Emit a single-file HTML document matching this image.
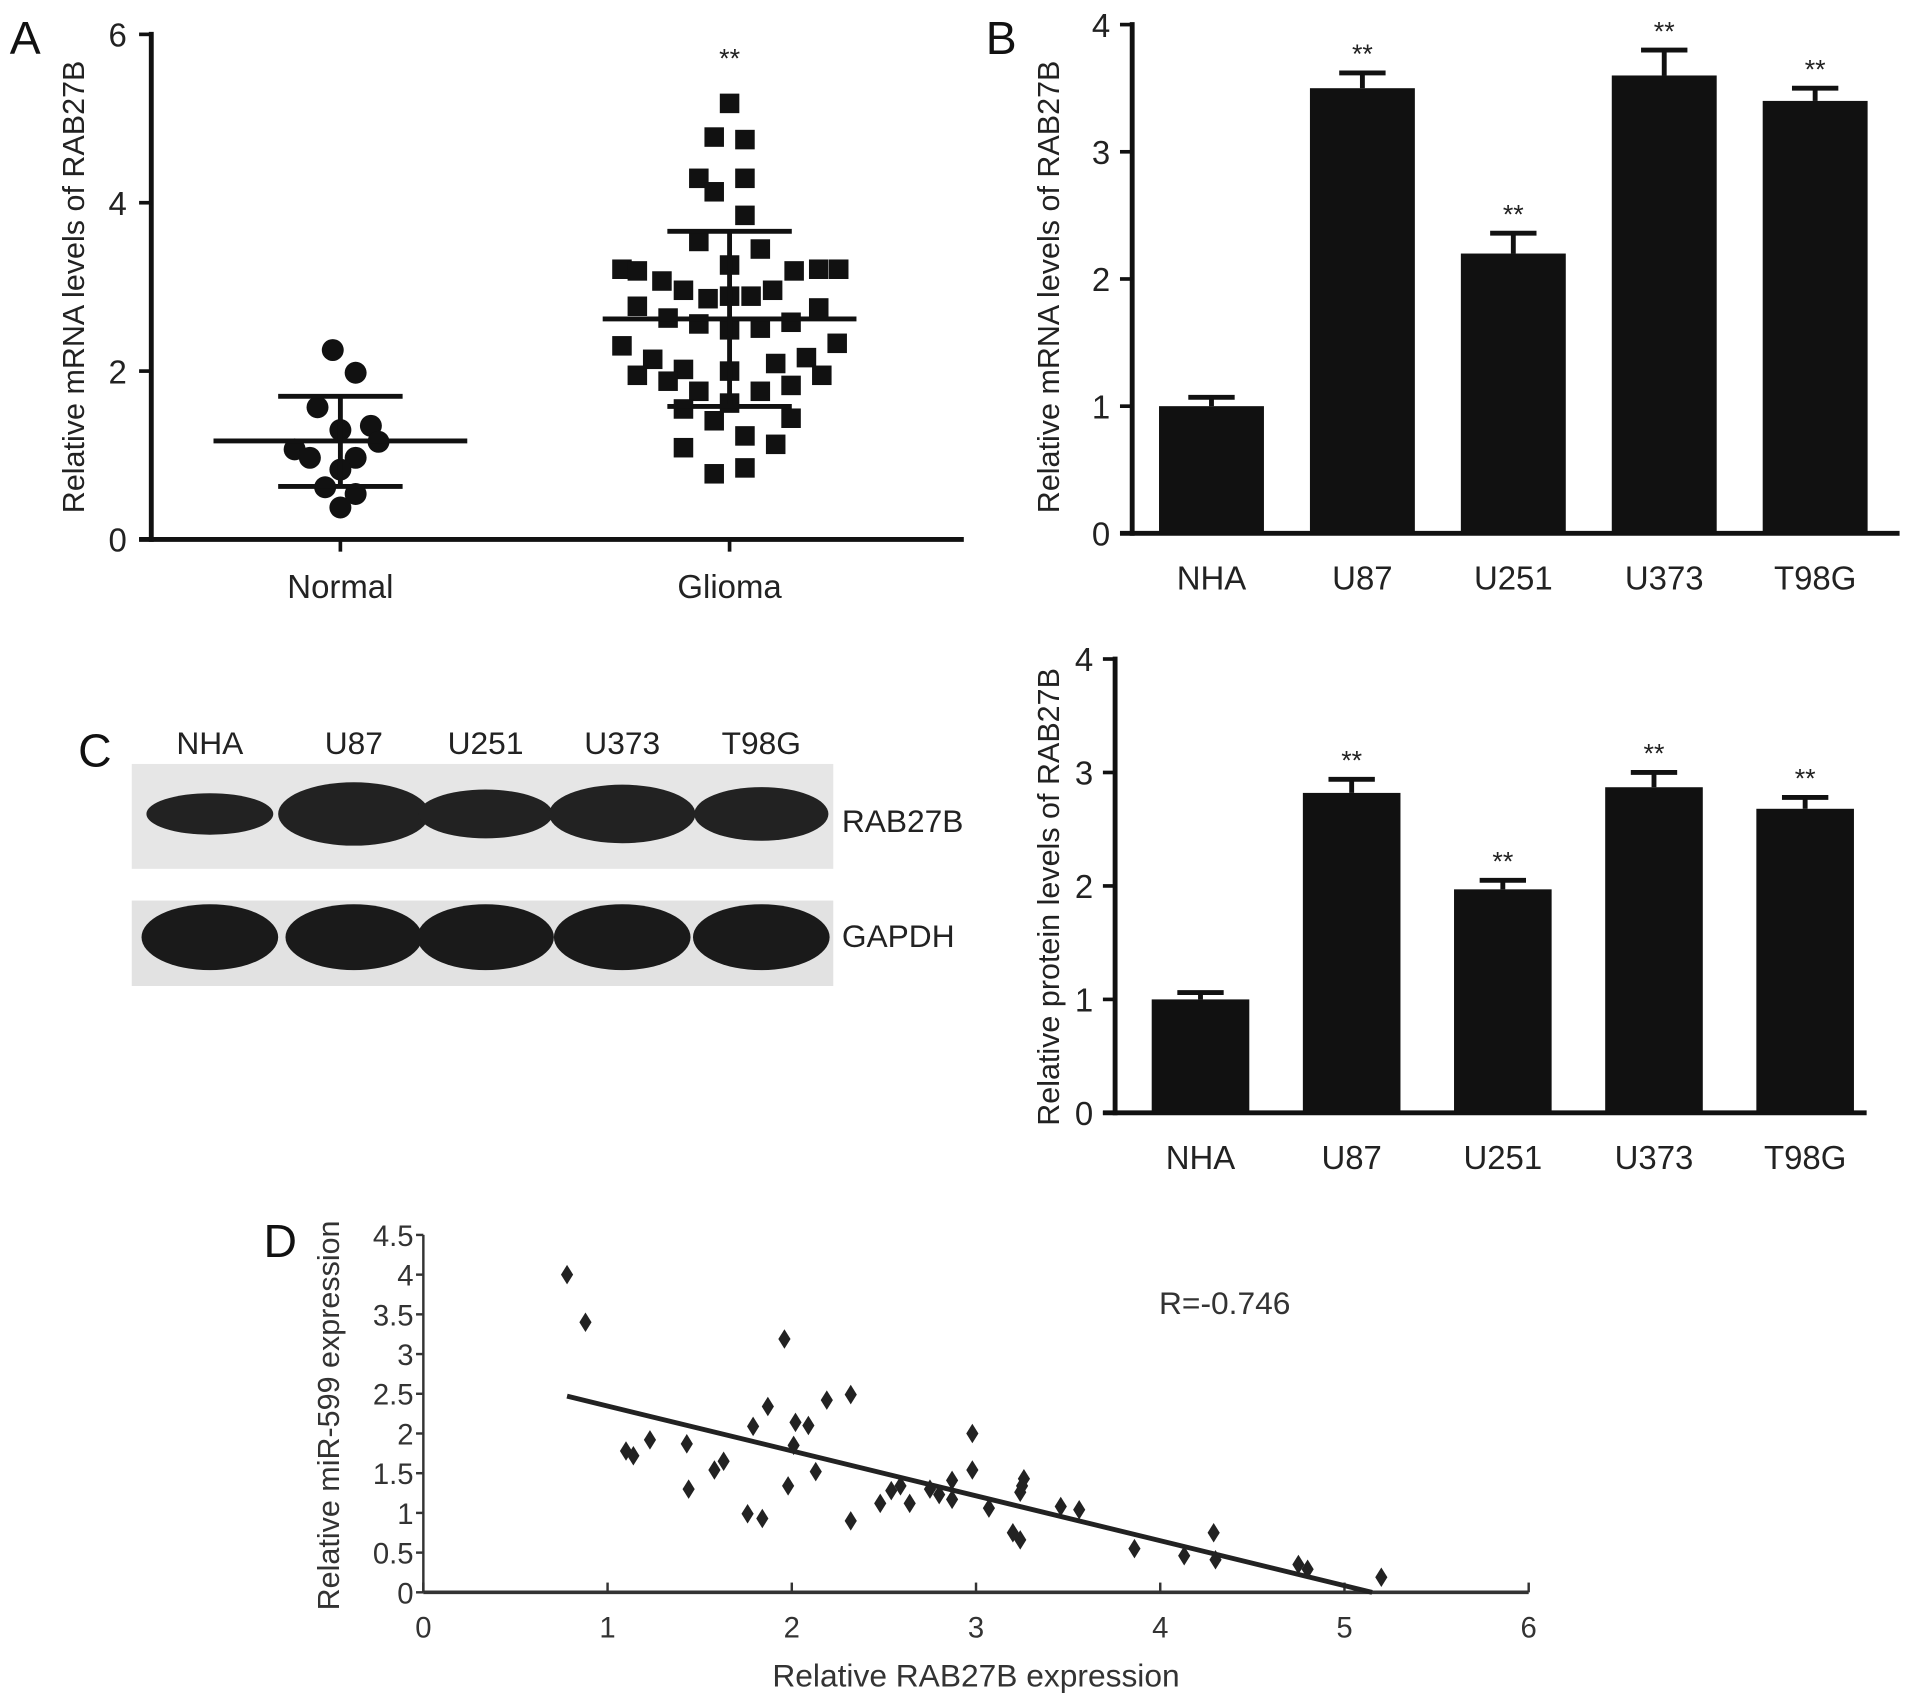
<!DOCTYPE html>
<html><head><meta charset="utf-8"><style>
html,body{margin:0;padding:0;background:#fff;}
svg{display:block;font-family:"Liberation Sans",Arial,sans-serif;}
</style></head><body>
<svg id="fig" width="1913" height="1706" viewBox="0 0 1568 1398" xmlns="http://www.w3.org/2000/svg">
<rect width="1568" height="1398" fill="#fff"/>
<g id="pA"></g>
<g id="pB1"></g>
<g id="pB2"></g>
<g id="pC"></g>
<g id="pD"></g>
</svg>
<script>
// ---------- Data ----------
const normalValues=[2.25,1.98,1.57,1.30,1.35,1.07,1.16,0.97,0.97,0.83,0.62,0.54,0.38];
const normalJitter=[-0.5,1,-1.5,0,2,-3,2.5,-2,1,0,-1,1,0];
const normalStats=[1.17,1.70,0.63];
const gliomaValues=[5.18,4.78,4.75,4.29,4.29,4.13,3.85,3.54,3.45,3.21,3.19,3.07,2.96,2.86,2.89,2.89,2.96,3.19,3.21,3.21,3.26,2.77,2.63,2.56,2.49,2.51,2.58,2.75,2.30,2.14,2.02,2.00,2.09,2.16,2.33,1.95,1.88,1.76,1.76,1.83,1.95,1.55,1.62,1.41,1.44,1.23,1.13,1.09,0.85,0.78];
const gliomaJitter=[0,-1,1,-2,1,-1,1,-2,2,-7,-6,-4.4,-3,-1.4,0,1.4,2.8,4.2,5.8,7.1,0,-6,-4,-2,0,2,4,5.8,-7,-5,-3,0,3,5,7,-6,-4,-2,2,4,6,-3,0,-1,4,1,3,-3,1,-1];
const gliomaStats=[2.62,3.66,1.58];
const aTicks=[0,2,4,6];
const cellLines=["NHA","U87","U251","U373","T98G"];
const mrnaValues=[1.0,3.5,2.2,3.6,3.4];
const mrnaErr=[0.07,0.12,0.16,0.2,0.1];
const proteinValues=[1.0,2.82,1.97,2.87,2.68];
const proteinErr=[0.06,0.12,0.08,0.13,0.1];
const bTicks=[0,1,2,3,4];
const corrX=[0.78,0.88,1.96,2.32,2.19,1.87,1.79,2.02,2.09,2.98,2.01,1.23,1.43,1.10,1.14,1.63,1.58,2.13,2.98,3.26,3.25,3.24,2.87,2.59,2.54,2.75,2.80,1.44,1.98,2.87,2.48,2.64,3.07,3.46,3.56,1.76,1.84,2.32,3.20,3.24,4.29,3.86,4.13,4.30,4.75,4.80,5.20];
const corrY=[4.0,3.40,3.19,2.49,2.42,2.34,2.09,2.14,2.10,2.0,1.85,1.92,1.87,1.78,1.72,1.65,1.54,1.52,1.54,1.43,1.34,1.26,1.41,1.34,1.28,1.30,1.23,1.30,1.34,1.17,1.12,1.12,1.06,1.08,1.04,0.99,0.93,0.90,0.75,0.66,0.75,0.55,0.46,0.41,0.35,0.29,0.19];
const fitLine=[[0.78,2.47],[5.15,0.0]];
const dXTicks=[0,1,2,3,4,5,6];
const dYTicks=[0,0.5,1,1.5,2,2.5,3,3.5,4,4.5];

const NS="http://www.w3.org/2000/svg";
function mk(parent,tag,attrs,text){const e=document.createElementNS(NS,tag);for(const k in attrs)e.setAttribute(k,attrs[k]);if(text!==undefined)e.textContent=text;parent.appendChild(e);return e;}

// ---------- Panel A ----------
(function(){
const g=document.getElementById('pA');
const y=v=>442-v*69;
const xN=279,xG=598;
let t=mk(g,'text',{x:8,y:44,'font-size':38,fill:'#111'},'A');


let ax=mk(g,'line',{x1:124,y1:26,x2:124,y2:444,stroke:'#111','stroke-width':4});


let xa=mk(g,'line',{x1:114,y1:442,x2:790,y2:442,stroke:'#111','stroke-width':4});


aTicks.forEach(v=>{
 let l=mk(g,'line',{x1:114,y1:y(v),x2:124,y2:y(v),stroke:'#111','stroke-width':3});
 
 
 let tt=mk(g,'text',{x:104,y:y(v)+10,'font-size':27,'text-anchor':'end',fill:'#222'},String(v));
 
 
});
[[xN,'Normal'],[xG,'Glioma']].forEach(([cx,lab])=>{
 let l=mk(g,'line',{x1:cx,y1:442,x2:cx,y2:452,stroke:'#111','stroke-width':3});
 
 
 let tt=mk(g,'text',{x:cx,y:490,'font-size':27,'text-anchor':'middle',fill:'#222'},lab);
 
 
});
let yt=mk(g,'text',{x:0,y:0,'font-size':25,'text-anchor':'middle',fill:'#222',transform:'translate(69,235) rotate(-90)'},'Relative mRNA levels of RAB27B');


let st=mk(g,'text',{x:xG,y:55,'font-size':22,'text-anchor':'middle',fill:'#222'},'**');


function stats(cx,s,mw,sw){
 let m=mk(g,'line',{x1:cx-mw,y1:y(s[0]),x2:cx+mw,y2:y(s[0]),stroke:'#111','stroke-width':4});
 
 
 let v=mk(g,'line',{x1:cx,y1:y(s[1]),x2:cx,y2:y(s[2]),stroke:'#111','stroke-width':4});
 
 
 [s[1],s[2]].forEach(b=>{let c=mk(g,'line',{x1:cx-sw,y1:y(b),x2:cx+sw,y2:y(b),stroke:'#111','stroke-width':4});
 
 });
}
normalValues.forEach((v,i)=>{
 let c=mk(g,'circle',{cx:xN+normalJitter[i]*12.5,cy:y(v),r:9,fill:'#111'});
 
 
});
gliomaValues.forEach((v,i)=>{
 let r=mk(g,'rect',{x:xG+gliomaJitter[i]*12.6-8,y:y(v)-8,width:16,height:16,fill:'#111'});
 
 
});
stats(xN,normalStats,104,51);
stats(xG,gliomaStats,104,51);
})();

// ---------- Panel B bar charts ----------
function barChart(id,opt,vals,errs,label){
 const g=document.getElementById(id);
 const y=v=>opt.y0-v*opt.k;
 if(opt.letter){let t=mk(g,'text',{x:808,y:44,'font-size':38,fill:'#111'},opt.letter);
 
 }
 let ax=mk(g,'line',{x1:opt.ax,y1:y(4)-2,x2:opt.ax,y2:opt.y0+2,stroke:'#111','stroke-width':4});
 
 
 let xa=mk(g,'line',{x1:opt.ax-10,y1:opt.y0,x2:opt.xe,y2:opt.y0,stroke:'#111','stroke-width':4});
 
 
 bTicks.forEach(v=>{
  let l=mk(g,'line',{x1:opt.ax-10,y1:y(v),x2:opt.ax,y2:y(v),stroke:'#111','stroke-width':3});
  
  
  let t=mk(g,'text',{x:opt.ax-18,y:y(v)+10,'font-size':27,'text-anchor':'end',fill:'#222'},String(v));
  
  
 });
 let yt=mk(g,'text',{x:0,y:0,'font-size':25,'text-anchor':'middle',fill:'#222',transform:`translate(${opt.tx},${opt.ty}) rotate(-90)`},label);
 
 
 cellLines.forEach((c,i)=>{
  const cx=opt.c0+i*opt.step,hw=opt.bw/2;
  let e=mk(g,'line',{x1:cx,y1:y(vals[i]+errs[i]),x2:cx,y2:y(vals[i]),stroke:'#111','stroke-width':4});
  
  
  let cap=mk(g,'line',{x1:cx-19,y1:y(vals[i]+errs[i]),x2:cx+19,y2:y(vals[i]+errs[i]),stroke:'#111','stroke-width':4});
  
  
  let b=mk(g,'rect',{x:cx-hw,y:y(vals[i]),width:opt.bw,height:vals[i]*opt.k,fill:'#111'});
  
  
  let l=mk(g,'text',{x:cx,y:opt.y0+46,'font-size':27,'text-anchor':'middle',fill:'#222'},c);
  
  
  if(i>0){let s=mk(g,'text',{x:cx,y:y(vals[i]+errs[i])-8,'font-size':22,'text-anchor':'middle',fill:'#222'},'**');
  
  }
 });
}
barChart('pB1',{letter:'B',y0:437,k:104.25,ax:928,xe:1557,c0:993,step:123.7,bw:86,tx:868,ty:235},mrnaValues,mrnaErr,'Relative mRNA levels of RAB27B');
barChart('pB2',{y0:912,k:93,ax:914,xe:1530,c0:984,step:123.9,bw:80,tx:868,ty:735},proteinValues,proteinErr,'Relative protein levels of RAB27B');

// ---------- Panel C ----------
(function(){
const g=document.getElementById('pC');
let t=mk(g,'text',{x:64,y:628,'font-size':38,fill:'#111'},'C');


const laneX=[172,290,398,510,624];
const rabW=[52,62,55,60,55],rabH=[17,26,20,24,22];
cellLines.forEach((c,i)=>{
 let l=mk(g,'text',{x:laneX[i],y:618,'font-size':26,'text-anchor':'middle',fill:'#222'},c);
 
 
});
let b1=mk(g,'rect',{x:108,y:626,width:575,height:86,fill:'#e6e6e6'});


let b2=mk(g,'rect',{x:108,y:738,width:575,height:70,fill:'#e2e2e2'});


laneX.forEach((x,i)=>{
 let e=mk(g,'ellipse',{cx:x,cy:667,rx:rabW[i],ry:rabH[i],fill:'#222'});
 
 
 let f=mk(g,'ellipse',{cx:x,cy:768,rx:56,ry:27,fill:'#1a1a1a'});
 
 
});
let r=mk(g,'text',{x:690,y:682,'font-size':26,fill:'#222'},'RAB27B');


let q=mk(g,'text',{x:690,y:776,'font-size':26,fill:'#222'},'GAPDH');


})();

// ---------- Panel D ----------
(function(){
const g=document.getElementById('pD');
const X=v=>347+v*151,Y=v=>1305-v*65.1;
let t=mk(g,'text',{x:216,y:1030,'font-size':38,fill:'#111'},'D');


let ax=mk(g,'line',{x1:X(0),y1:Y(4.5),x2:X(0),y2:Y(0),stroke:'#333','stroke-width':2});


let xa=mk(g,'line',{x1:X(0),y1:Y(0),x2:X(6),y2:Y(0),stroke:'#333','stroke-width':3});


dYTicks.forEach(v=>{
 let l=mk(g,'line',{x1:X(0)-6,y1:Y(v),x2:X(0),y2:Y(v),stroke:'#333','stroke-width':2});
 
 
 let tt=mk(g,'text',{x:X(0)-8,y:Y(v)+9,'font-size':24,'text-anchor':'end',fill:'#333'},String(v));
 
 
});
dXTicks.forEach(v=>{
 let l=mk(g,'line',{x1:X(v),y1:Y(0),x2:X(v),y2:Y(0)-8,stroke:'#333','stroke-width':2});
 
 
 let tt=mk(g,'text',{x:X(v),y:Y(0)+37,'font-size':24,'text-anchor':'middle',fill:'#333'},String(v));
 
 
});
let xt=mk(g,'text',{x:800,y:1382,'font-size':26,'text-anchor':'middle',fill:'#333'},'Relative RAB27B expression');


let yt=mk(g,'text',{x:0,y:0,'font-size':25,'text-anchor':'middle',fill:'#333',transform:'translate(278,1160) rotate(-90)'},'Relative miR-599 expression');


let rr=mk(g,'text',{x:950,y:1077,'font-size':26,fill:'#333'},'R=-0.746');


let fl=mk(g,'line',{x1:X(fitLine[0][0]),y1:Y(fitLine[0][1]),x2:X(fitLine[1][0]),y2:Y(fitLine[1][1]),stroke:'#222','stroke-width':4});


corrX.forEach((v,i)=>{
 const cx=X(v),cy=Y(corrY[i]);
 let p=mk(g,'polygon',{points:`${cx},${cy-8} ${cx+5},${cy} ${cx},${cy+8} ${cx-5},${cy}`,fill:'#222'});
 
 
});
})();
</script>
</body></html>
